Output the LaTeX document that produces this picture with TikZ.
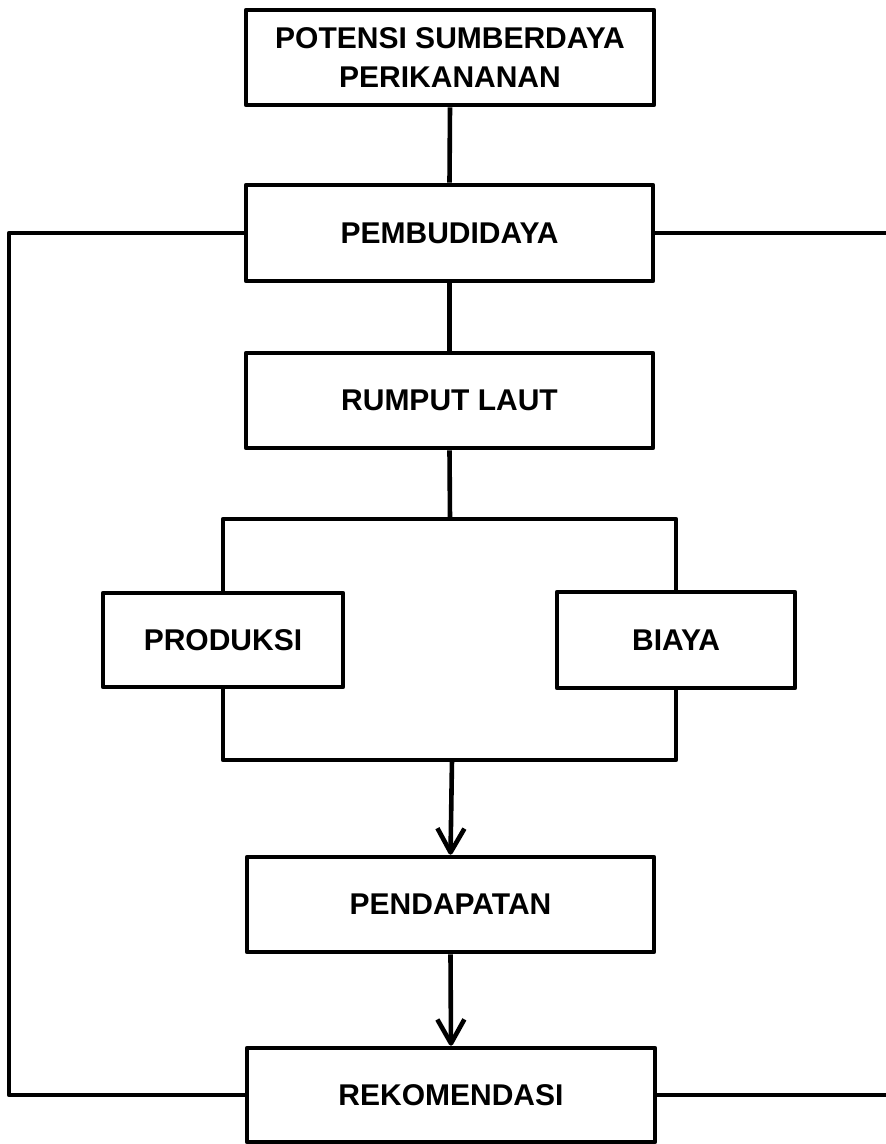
\documentclass[tikz,border=0pt]{standalone}
\usepackage{fontspec}
\setmainfont{Liberation Sans}
\usetikzlibrary{arrows.meta}
\begin{document}
\begin{tikzpicture}[x=1pt,y=-1pt,
  box/.style={draw=black,line width=4.6pt,line join=round,inner sep=0pt,
    font=\bfseries\fontsize{30}{39}\selectfont,align=center},
  conn/.style={draw=black,line width=4.6pt,line join=round},
  arr/.style={conn,-{Straight Barb[length=24pt,width=27pt,line join=round]}}]
\useasboundingbox (0,0) rectangle (886,1144);
\fill[white] (0,0) rectangle (886,1144);
\node[box,minimum width=408pt,minimum height=95pt] (pot) at (450,57.5) {POTENSI SUMBERDAYA\\PERIKANANAN};
\node[box,minimum width=407pt,minimum height=96pt] (pem) at (449.5,233) {PEMBUDIDAYA};
\node[box,minimum width=407pt,minimum height=95pt] (rum) at (449.5,400.5) {RUMPUT LAUT};
\node[box,minimum width=240pt,minimum height=94pt] (pro) at (223,640) {PRODUKSI};
\node[box,minimum width=238pt,minimum height=96pt] (bia) at (676,640) {BIAYA};
\node[box,minimum width=407pt,minimum height=95pt] (pen) at (450.5,904.5) {PENDAPATAN};
\node[box,minimum width=408pt,minimum height=94pt] (rek) at (451,1095) {REKOMENDASI};
\coordinate (st) at (450,519);
\coordinate (sl) at (223,519);
\coordinate (sr) at (676,519);
\coordinate (bl) at (223,760);
\coordinate (br) at (676,760);
\coordinate (bm) at (452,760);
\coordinate (lt) at (9,233);
\coordinate (lb) at (9,1095);
\coordinate (rt) at (886,233);
\coordinate (rb) at (886,1095);
\draw[conn] (pot.south) -- (pem.north);
\draw[conn] (pem.south) -- (rum.north);
\draw[conn] (rum.south) -- (st);
\draw[conn] (pro.north) -- (sl) -- (sr) -- (bia.north);
\draw[conn] (pro.south) -- (bl) -- (br) -- (bia.south);
\draw[arr] (bm) -- (pen.north);
\draw[arr] (pen.south) -- (rek.north);
\draw[conn] (pem.west) -- (lt) -- (lb) -- (rek.west);
\draw[conn] (pem.east) -- (rt);
\draw[conn] (rek.east) -- (rb);
\end{tikzpicture}
\end{document}
